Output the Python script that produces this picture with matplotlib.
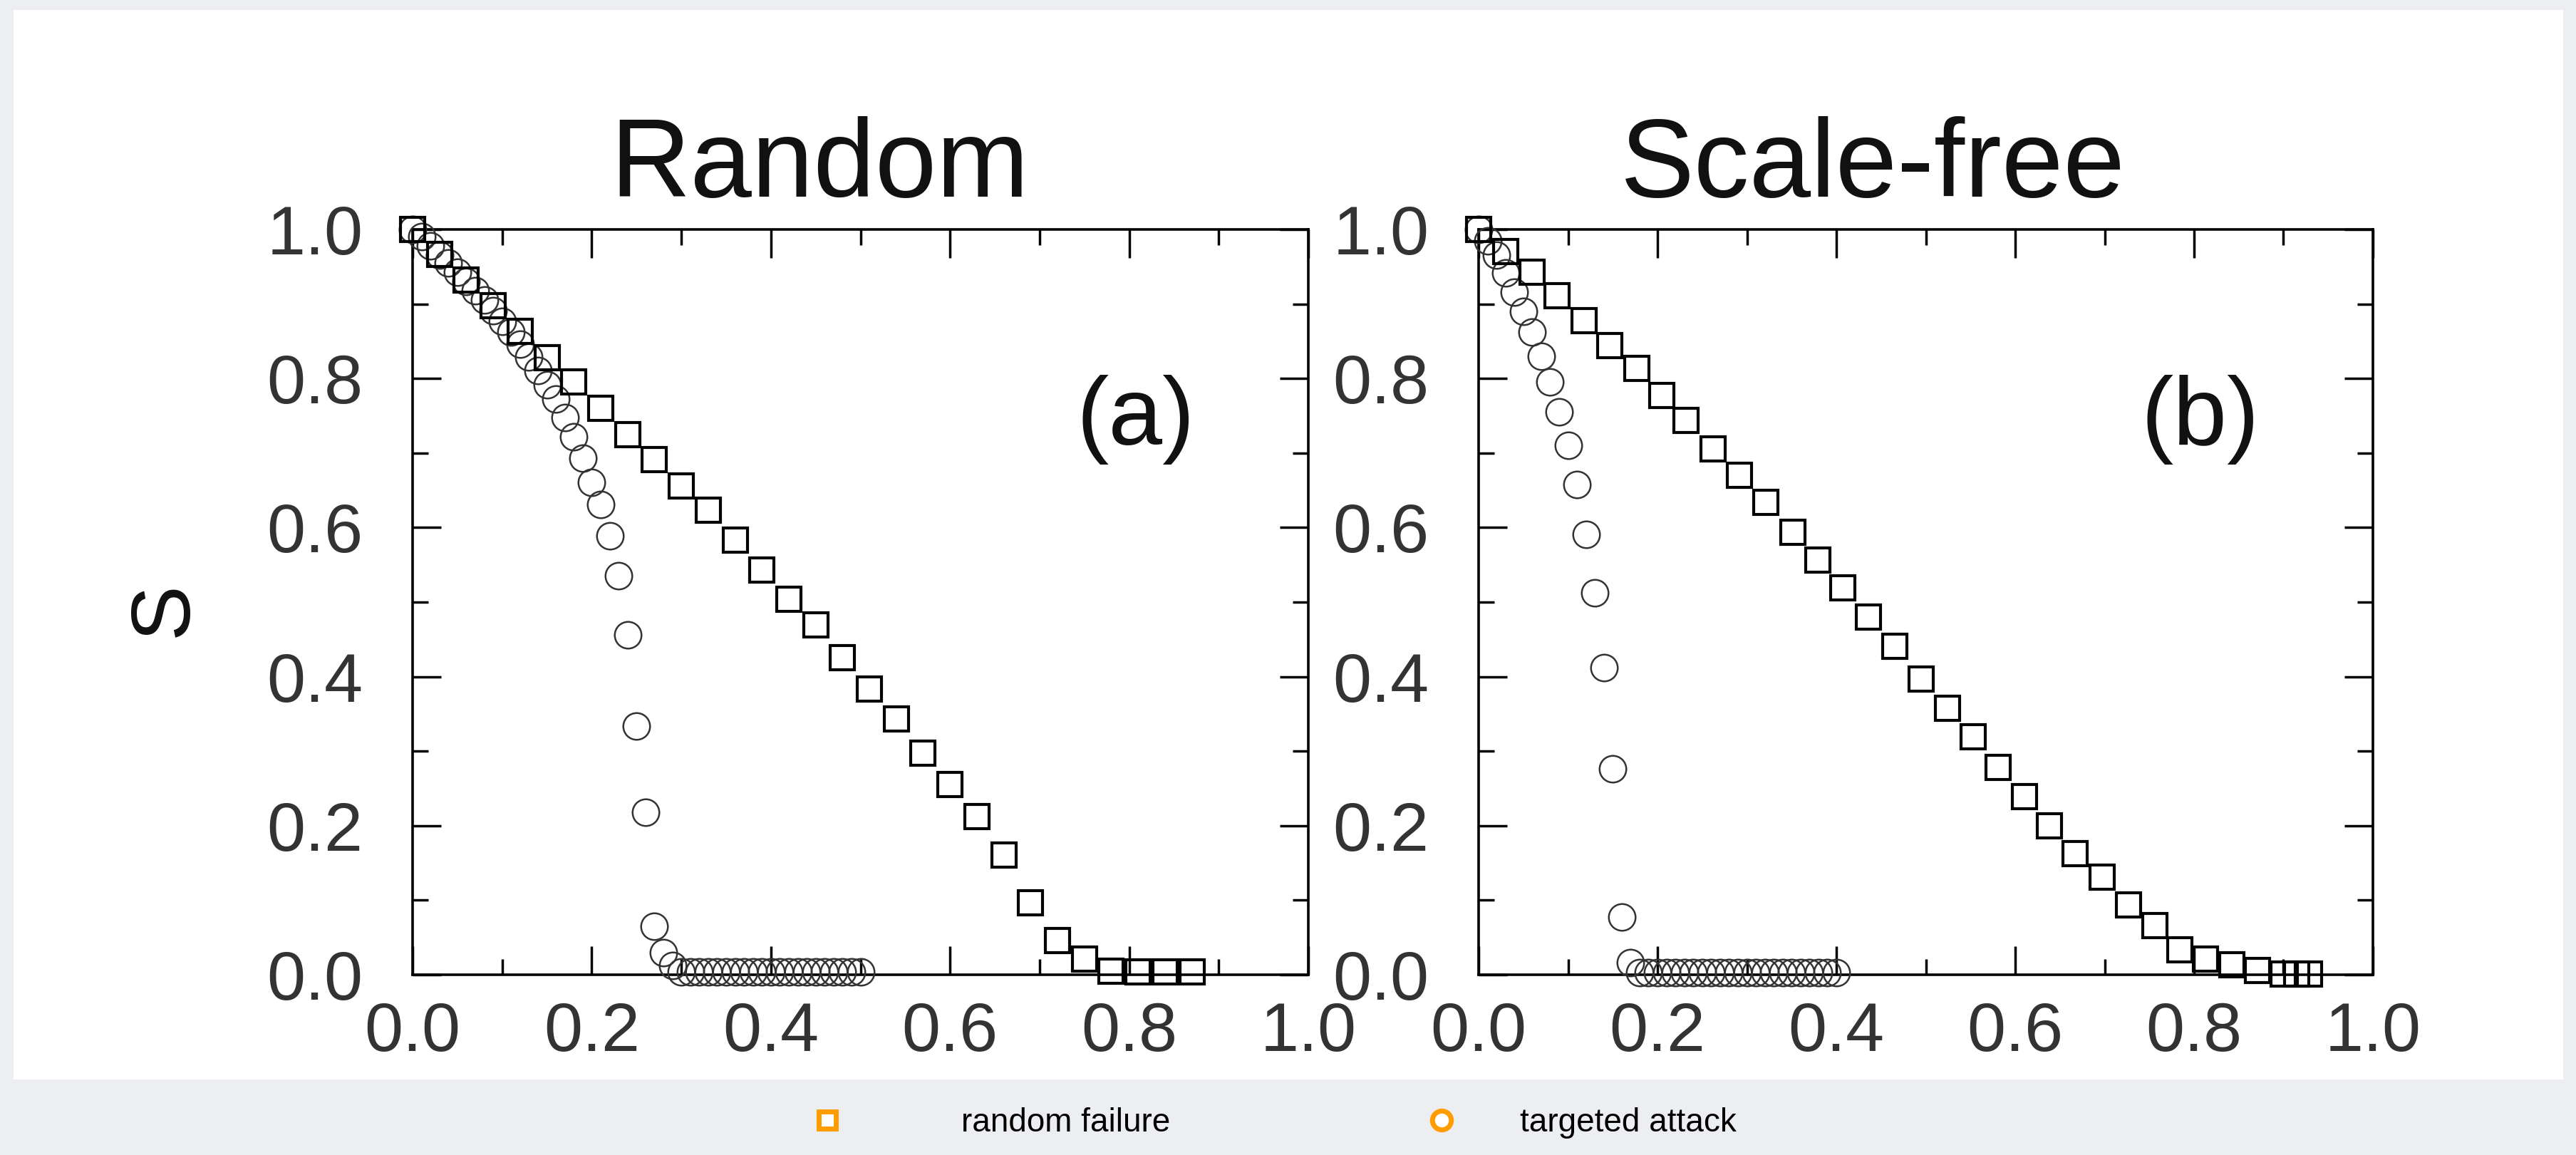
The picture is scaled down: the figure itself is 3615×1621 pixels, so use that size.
import matplotlib.pyplot as plt
from matplotlib.patches import Rectangle
from matplotlib.lines import Line2D
from matplotlib.ticker import MultipleLocator

plt.rcParams['font.family'] = ['Liberation Sans', 'DejaVu Sans']

# ── Data ──────────────────────────────────────────────────────────────────────
# (a) random network: random failure (squares) and targeted attack (circles)
RND_FAIL_F = [0.00, 0.03, 0.06, 0.09, 0.12, 0.15, 0.18, 0.21, 0.24, 0.27,
              0.30, 0.33, 0.36, 0.39, 0.42, 0.45, 0.48, 0.51, 0.54, 0.57,
              0.60, 0.63, 0.66, 0.69, 0.72, 0.75, 0.78, 0.81, 0.84, 0.87]
RND_FAIL_S = [1.000, 0.967, 0.932, 0.898, 0.863, 0.828, 0.795, 0.760, 0.725, 0.691,
              0.656, 0.623, 0.583, 0.543, 0.504, 0.469, 0.425, 0.383, 0.343, 0.297,
              0.255, 0.212, 0.161, 0.097, 0.046, 0.021, 0.005, 0.004, 0.004, 0.004]

RND_ATK_F = [0.00, 0.01, 0.02, 0.03, 0.04, 0.05, 0.06, 0.07, 0.08, 0.09,
             0.10, 0.11, 0.12, 0.13, 0.14, 0.15, 0.16, 0.17, 0.18, 0.19,
             0.20, 0.21, 0.22, 0.23, 0.24, 0.25, 0.26, 0.27, 0.28, 0.29,
             0.30, 0.31, 0.32, 0.33, 0.34, 0.35, 0.36, 0.37, 0.38, 0.39,
             0.40, 0.41, 0.42, 0.43, 0.44, 0.45, 0.46, 0.47, 0.48, 0.49, 0.50]
RND_ATK_S = [1.000, 0.990, 0.978, 0.966, 0.955, 0.943, 0.930, 0.918, 0.905, 0.891,
             0.877, 0.862, 0.846, 0.829, 0.811, 0.792, 0.772, 0.748, 0.722, 0.693,
             0.661, 0.631, 0.589, 0.535, 0.456, 0.334, 0.218, 0.065, 0.030, 0.012,
             0.004, 0.004, 0.004, 0.004, 0.004, 0.004, 0.004, 0.004, 0.004, 0.004,
             0.004, 0.004, 0.004, 0.004, 0.004, 0.004, 0.004, 0.004, 0.004, 0.004, 0.004]

# (b) scale-free network
SF_FAIL_F = [0.000, 0.030, 0.060, 0.088, 0.118, 0.147, 0.177, 0.205, 0.232, 0.262,
             0.292, 0.321, 0.351, 0.379, 0.407, 0.436, 0.465, 0.495, 0.524, 0.553,
             0.581, 0.610, 0.638, 0.667, 0.697, 0.727, 0.756, 0.784, 0.813, 0.842,
             0.871, 0.900, 0.915, 0.929]
SF_FAIL_S = [1.000, 0.970, 0.943, 0.911, 0.878, 0.844, 0.814, 0.777, 0.744, 0.706,
             0.670, 0.634, 0.594, 0.556, 0.519, 0.480, 0.441, 0.397, 0.358, 0.319,
             0.278, 0.239, 0.200, 0.163, 0.131, 0.094, 0.066, 0.033, 0.021, 0.013,
             0.006, 0.001, 0.001, 0.001]

SF_ATK_F = [0.00, 0.01, 0.02, 0.03, 0.04, 0.05, 0.06, 0.07, 0.08, 0.09,
            0.10, 0.11, 0.12, 0.13, 0.14, 0.15, 0.16, 0.17, 0.18, 0.19,
            0.20, 0.21, 0.22, 0.23, 0.24, 0.25, 0.26, 0.27, 0.28, 0.29,
            0.30, 0.31, 0.32, 0.33, 0.34, 0.35, 0.36, 0.37, 0.38, 0.39, 0.40]
SF_ATK_S = [1.000, 0.985, 0.966, 0.942, 0.916, 0.890, 0.862, 0.830, 0.795, 0.755,
            0.710, 0.658, 0.591, 0.512, 0.412, 0.276, 0.077, 0.016, 0.003, 0.003,
            0.003, 0.003, 0.003, 0.003, 0.003, 0.003, 0.003, 0.003, 0.003, 0.003,
            0.003, 0.003, 0.003, 0.003, 0.003, 0.003, 0.003, 0.003, 0.003, 0.003, 0.003]

PANELS = [
    ('Random', '(a)', RND_FAIL_F, RND_FAIL_S, RND_ATK_F, RND_ATK_S),
    ('Scale-free', '(b)', SF_FAIL_F, SF_FAIL_S, SF_ATK_F, SF_ATK_S),
]
TITLE_X = [0.454, 0.441]

LEGEND_LABELS = ['random failure', 'targeted attack']
ORANGE = '#ff9c00'

# ── Figure ────────────────────────────────────────────────────────────────────
W, H = 3616, 1621
fig = plt.figure(figsize=(W / 100, H / 100), dpi=100)
fig.patch.set_facecolor('#eceef1')

# white card behind the two panels
card = fig.add_axes([0, 0, 1, 1], zorder=-5)
card.axis('off')
card.add_patch(Rectangle((19 / W, 1 - 1515 / H), (W - 38) / W, (1515 - 14) / H,
                         transform=card.transAxes, facecolor='white',
                         edgecolor='none'))

ax_rects = [[579 / W, 1 - 1368 / H, 1257 / W, 1046 / H],
            [2075 / W, 1 - 1368 / H, 1255 / W, 1046 / H]]

for rect, (title, tag, ff, fs, af, as_), tx in zip(ax_rects, PANELS, TITLE_X):
    ax = fig.add_axes(rect)
    ax.set_facecolor('white')
    ax.set_xlim(0, 1)
    ax.set_ylim(0, 1)

    ax.plot(af, as_, linestyle='none', marker='o', ms=27, mfc='none',
            mec='#333333', mew=1.8, clip_on=False, zorder=3)
    ax.plot(ff, fs, linestyle='none', marker='s', ms=25, mfc='none',
            mec='black', mew=3.0, clip_on=False, zorder=4)

    ax.xaxis.set_major_locator(MultipleLocator(0.2))
    ax.xaxis.set_minor_locator(MultipleLocator(0.1))
    ax.yaxis.set_major_locator(MultipleLocator(0.2))
    ax.yaxis.set_minor_locator(MultipleLocator(0.1))
    ax.xaxis.set_major_formatter(lambda v, p: f'{v:.1f}')
    ax.yaxis.set_major_formatter(lambda v, p: f'{v:.1f}')
    ax.tick_params(which='both', direction='in', top=True, right=True,
                   width=2.5, colors='black', labelcolor='#333333', labelsize=70)
    ax.tick_params(which='major', length=29)
    ax.tick_params(which='minor', length=16)
    ax.tick_params(axis='y', which='major', pad=50)
    ax.tick_params(axis='x', which='major', pad=27)
    for sp in ax.spines.values():
        sp.set_linewidth(2.6)

    ax.text(tx, 1.044, title, transform=ax.transAxes, ha='center',
            va='baseline', fontsize=112, color='#111111')
    ax.text(0.807, 0.745, tag, transform=ax.transAxes, ha='center',
            va='center', fontsize=98, color='#111111')

    if title == 'Random':
        ax.text(-0.277, 0.49, 'S', transform=ax.transAxes, rotation=90,
                ha='center', va='center', fontsize=84, color='#111111')

# ── Legend in the grey band ──────────────────────────────────────────────────
handles = [
    Line2D([], [], linestyle='none', marker='s', ms=17, mfc='white',
           mec=ORANGE, mew=5),
    Line2D([], [], linestyle='none', marker='o', ms=19, mfc='white',
           mec=ORANGE, mew=5),
]
anchors = [(1138 / W, 1 - 1576 / H), (2000 / W, 1 - 1576 / H)]
pads = [3.6, 1.9]
for h, lab, anc, pad in zip(handles, LEGEND_LABELS, anchors, pads):
    fig.legend(handles=[h], labels=[lab], loc='center left', bbox_to_anchor=anc,
               frameon=False, fontsize=33, handlelength=1.0, handletextpad=pad,
               borderpad=0, borderaxespad=0)

fig.savefig('out.png', dpi=100, facecolor=fig.get_facecolor())
